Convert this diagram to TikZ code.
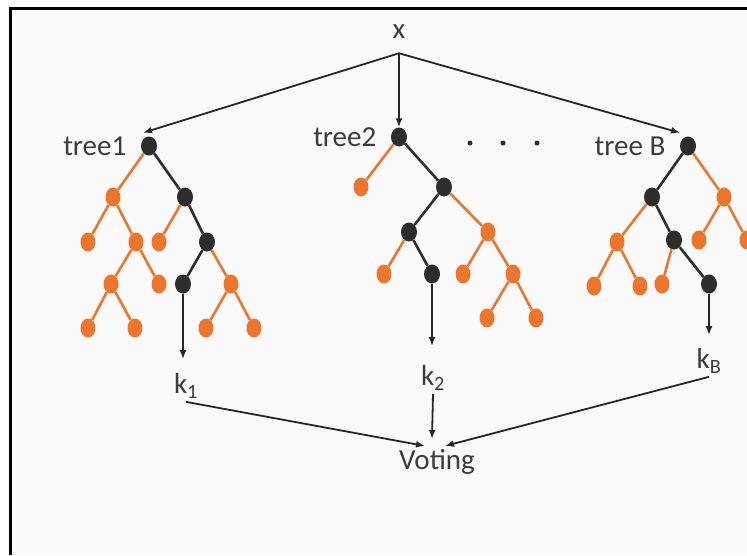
\documentclass[tikz,border=0pt]{standalone}
\usepackage{fontspec}
\setmainfont{Carlito}
\usetikzlibrary{shapes.geometric, arrows.meta}
\definecolor{treeorange}{RGB}{237,118,44}
\definecolor{treegray}{RGB}{45,45,45}
\definecolor{textgray}{RGB}{60,60,60}
\definecolor{paper}{RGB}{250,250,250}

\begin{document}
\begin{tikzpicture}[x=1pt, y=-1pt,
  font=\fontsize{29}{34}\selectfont, text=textgray,
  orange node/.style={ellipse, fill=treeorange, minimum width=15pt, minimum height=19pt, inner sep=0pt},
  black node/.style={ellipse, fill=treegray, minimum width=16pt, minimum height=19pt, inner sep=0pt},
  gap dot/.style={circle, fill=treegray, minimum size=5pt, inner sep=0pt},
  orange edge/.style={treeorange, line width=2.6pt},
  black edge/.style={treegray, line width=2.6pt},
  arrow line/.style={-{Latex[length=9pt, width=7pt]}, line width=1.8pt, black!85},
  tree label/.style={label distance=11pt}]
\useasboundingbox (0,0) rectangle (747,555);

% frame
\fill [paper] (10,9) rectangle (747,555);
\draw [line width=2.6pt] (10.3,555) -- (10.3,8.5) -- (747,8.5);

%%%  nodes

% input node
\node [outer sep=11pt] (x) at (399,32) {x};

% tree1 nodes
\node [black node, label={[tree label]left:tree1}] (a1) at (149,146) {};
\node [orange node] (a2) at (113,197) {};
\node [black node] (a3) at (185,197) {};
\node [orange node] (a4) at (88,242) {};
\node [orange node] (a5) at (136,242) {};
\node [orange node] (a6) at (159,242) {};
\node [black node] (a7) at (207,242) {};
\node [orange node] (a8) at (111,284) {};
\node [orange node] (a9) at (159,284) {};
\node [black node] (a10) at (183,284) {};
\node [orange node] (a11) at (231,284) {};
\node [orange node] (a12) at (88,328) {};
\node [orange node] (a13) at (135,328) {};
\node [orange node] (a14) at (206,328) {};
\node [orange node] (a15) at (254,328) {};

% tree2 nodes
\node [black node, label={[tree label]left:tree2}] (b1) at (399,137) {};
\node [orange node] (b2) at (361,187) {};
\node [black node] (b3) at (444,187) {};
\node [black node] (b4) at (409,232) {};
\node [orange node] (b5) at (488,232) {};
\node [orange node] (b6) at (384,274) {};
\node [black node] (b7) at (432,274) {};
\node [orange node] (b8) at (463,274) {};
\node [orange node] (b9) at (513,274) {};
\node [orange node] (b10) at (487,318) {};
\node [orange node] (b11) at (536,318) {};

% tree B nodes
\node [black node, label={[tree label]left:tree B}] (c1) at (688,146) {};
\node [black node] (c2) at (652,197) {};
\node [orange node] (c3) at (724,197) {};
\node [orange node] (c4) at (617,242) {};
\node [black node] (c5) at (674,240) {};
\node [orange node] (c6) at (699,240) {};
\node [orange node] (c7) at (747,240) {};
\node [orange node] (c8) at (594,286) {};
\node [orange node] (c9) at (640,286) {};
\node [orange node] (c10) at (662,284) {};
\node [black node] (c11) at (709,284) {};

% dots between trees
\node [gap dot] (d1) at (470,143) {};
\node [gap dot] (d2) at (503,143) {};
\node [gap dot] (d3) at (537,143) {};

% output nodes
\node (k1) at (186,386) {k\textsubscript{1}};
\node (k2) at (433,378) {k\textsubscript{2}};
\node (kB) at (709,361) {k\textsubscript{B}};
\node (vote) at (437,462) {Voting};

%%% edges

% tree1
\draw (a1) [orange edge] to (a2);
\draw (a1) [black edge] to (a3);
\draw (a2) [orange edge] to (a4);
\draw (a2) [orange edge] to (a5);
\draw (a3) [orange edge] to (a6);
\draw (a3) [black edge] to (a7);
\draw (a5) [orange edge] to (a8);
\draw (a5) [orange edge] to (a9);
\draw (a7) [black edge] to (a10);
\draw (a7) [orange edge] to (a11);
\draw (a8) [orange edge] to (a12);
\draw (a8) [orange edge] to (a13);
\draw (a11) [orange edge] to (a14);
\draw (a11) [orange edge] to (a15);

% tree2
\draw (b1) [orange edge] to (b2);
\draw (b1) [black edge] to (b3);
\draw (b3) [black edge] to (b4);
\draw (b3) [orange edge] to (b5);
\draw (b4) [orange edge] to (b6);
\draw (b4) [black edge] to (b7);
\draw (b5) [orange edge] to (b8);
\draw (b5) [orange edge] to (b9);
\draw (b9) [orange edge] to (b10);
\draw (b9) [orange edge] to (b11);

% tree B
\draw (c1) [black edge] to (c2);
\draw (c1) [orange edge] to (c3);
\draw (c2) [orange edge] to (c4);
\draw (c2) [black edge] to (c5);
\draw (c3) [orange edge] to (c6);
\draw (c3) [orange edge] to (c7);
\draw (c4) [orange edge] to (c8);
\draw (c4) [orange edge] to (c9);
\draw (c5) [orange edge] to (c10);
\draw (c5) [black edge] to (c11);

% input to trees
\draw (x.south) [arrow line] to ([shift={(-6pt,3.5pt)}]a1.north);
\draw (x.south) [arrow line] to (b1);
\draw (x.south) [arrow line] to ([shift={(-8pt,3.5pt)}]c1.north);

% leaves to outputs
\draw (a10) [arrow line, shorten >=11pt] to (a10 |- k1.north);
\draw (b7) [arrow line, shorten >=16pt] to (b7 |- k2.north);
\draw (c11) [arrow line, shorten >=10pt] to (c11 |- kB.north);

% voting
\draw (k1.south) [arrow line] to ([xshift=-12pt]vote.north);
\draw (k2.south) [arrow line] to ([shift={(-5pt,7pt)}]vote.north);
\draw (kB.south) [arrow line] to ([xshift=8pt]vote.north);
\end{tikzpicture}
\end{document}
